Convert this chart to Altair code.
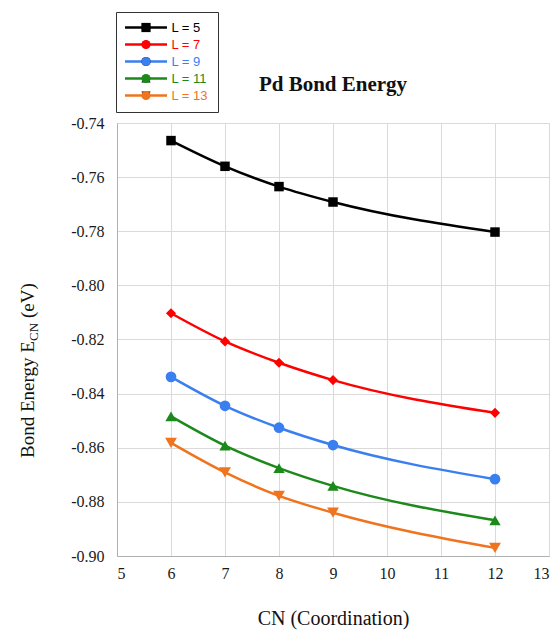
import altair as alt
import pandas as pd

# ---- data ----
cn = [6, 7, 8, 9, 12]
series_labels = ["L = 5", "L = 7", "L = 9", "L = 11", "L = 13"]
e_L5 = [-0.7465, -0.7560, -0.7635, -0.7692, -0.7803]
e_L7 = [-0.8103, -0.8207, -0.8286, -0.8350, -0.8471]
e_L9 = [-0.8338, -0.8445, -0.8526, -0.8590, -0.8716]
e_L11 = [-0.8484, -0.8592, -0.8675, -0.8741, -0.8868]
e_L13 = [-0.8582, -0.8691, -0.8778, -0.8840, -0.8970]
x_ticks = [5, 6, 7, 8, 9, 10, 11, 12, 13]
y_ticks = [-0.90, -0.88, -0.86, -0.84, -0.82, -0.80, -0.78, -0.76, -0.74]

colors = ["#000000", "#ff0000", "#3a7ff0", "#1b8a1b", "#f0731e"]
shapes = ["square", "diamond", "circle", "triangle-up", "triangle-down"]
marker_sizes = [90, 140, 95, 105, 105]

rows = []
for lab, vals in zip(series_labels, [e_L5, e_L7, e_L9, e_L11, e_L13]):
    for c, v in zip(cn, vals):
        rows.append({"CN": c, "E": v, "L": lab, "Series": lab})
df = pd.DataFrame(rows)

label_color_expr = ""
for lab, col in zip(series_labels, colors):
    label_color_expr += f"datum.label == '{lab}' ? '{col}' : "
label_color_expr += "'#000000'"

serif = "Liberation Serif"
sans = "Liberation Sans"

x_enc = alt.X("CN:Q", scale=alt.Scale(domain=[5, 13], nice=False, zero=False),
              axis=alt.Axis(values=x_ticks, title="CN (Coordination)", ticks=False,
                            labelPadding=9, titlePadding=27, format="d"))
y_enc = alt.Y("E:Q", scale=alt.Scale(domain=[-0.90, -0.74], nice=False, zero=False),
              axis=alt.Axis(values=y_ticks, title=None, ticks=False, labelPadding=13,
                            labelExpr="replace(format(datum.value, '.2f'), '\u2212', '-')"))

LX = -1
LY = -111
PAD = 9
SYM_OFF = 14.5
ROWPAD = 3

lines = alt.Chart(df).mark_line(interpolate="monotone", strokeWidth=2.5).encode(
    x=x_enc,
    y=y_enc,
    stroke=alt.Stroke("L:N", sort=series_labels, scale=alt.Scale(range=colors),
                      legend=alt.Legend(title=None, orient="none", legendX=LX, legendY=LY,
                                        symbolType="M-5,0H5", symbolSize=70.56,
                                        symbolStrokeWidth=2.5, symbolOffset=SYM_OFF,
                                        labelFont=sans, labelFontSize=13, labelOffset=19,
                                        labelExpr="datum.label + '\u00a0\u00a0\u00a0'",
                                        labelColor=alt.ExprRef(expr=label_color_expr),
                                        strokeColor="#333333", fillColor="white",
                                        padding=PAD, rowPadding=ROWPAD, cornerRadius=0)),
)

pt_legend = alt.Legend(title=None, orient="none", legendX=LX, legendY=LY,
                       symbolSize=85, symbolStrokeWidth=0, symbolOffset=SYM_OFF,
                       labelOpacity=0, labelFont=sans, labelFontSize=13, labelOffset=19,
                       padding=PAD, rowPadding=ROWPAD)

pts = alt.Chart(df).mark_point(filled=True, opacity=1, strokeWidth=0).encode(
    x="CN:Q",
    y="E:Q",
    fill=alt.Fill("Series:N", sort=series_labels, scale=alt.Scale(range=colors),
                  legend=pt_legend),
    shape=alt.Shape("Series:N", sort=series_labels, scale=alt.Scale(range=shapes),
                    legend=pt_legend),
    size=alt.Size("L:N", sort=series_labels, scale=alt.Scale(range=marker_sizes),
                  legend=None),
)

# chart title as text
title_txt = ["Pd Bond Energy"]
title = alt.Chart(pd.DataFrame({"t": title_txt})).mark_text(
    align="center", baseline="alphabetic", font=serif, fontSize=21, fontWeight="bold",
    color="#111111"
).encode(text="t:N", x=alt.value(216), y=alt.value(-32))

# y axis title with subscript
ytitle_parts = ["Bond Energy E", "CN", "(eV)"]
t1 = alt.Chart(pd.DataFrame({"t": [ytitle_parts[0]]})).mark_text(
    angle=270, align="left", baseline="middle", font=serif, fontSize=19, color="#111111"
).encode(text="t:N", x=alt.value(-89), y=alt.value(335))
t2 = alt.Chart(pd.DataFrame({"t": [ytitle_parts[1]]})).mark_text(
    angle=270, align="left", baseline="middle", font=serif, fontSize=13, color="#111111"
).encode(text="t:N", x=alt.value(-83), y=alt.value(335 - 117))
t3 = alt.Chart(pd.DataFrame({"t": [ytitle_parts[2]]})).mark_text(
    angle=270, align="left", baseline="middle", font=serif, fontSize=19, color="#111111"
).encode(text="t:N", x=alt.value(-89), y=alt.value(335 - 117 - 23))

chart = alt.layer(lines, pts, title, t1, t2, t3).properties(
    width=432,
    height=433,
    autosize=alt.AutoSizeParams(type="none"),
    padding={"left": 109, "top": 115, "right": 3, "bottom": 74},
).configure_view(
    stroke="#c4c4c4", strokeWidth=1
).configure_axis(
    gridColor="#dadada", gridWidth=1, domainColor="#b0b0b0",
    labelFont=serif, labelFontSize=16, labelColor="#1a1a1a",
    titleFont=serif, titleFontSize=20, titleFontWeight="normal", titleColor="#111111",
)

chart.save("out.html", embed_options={"renderer": "svg", "actions": False})
